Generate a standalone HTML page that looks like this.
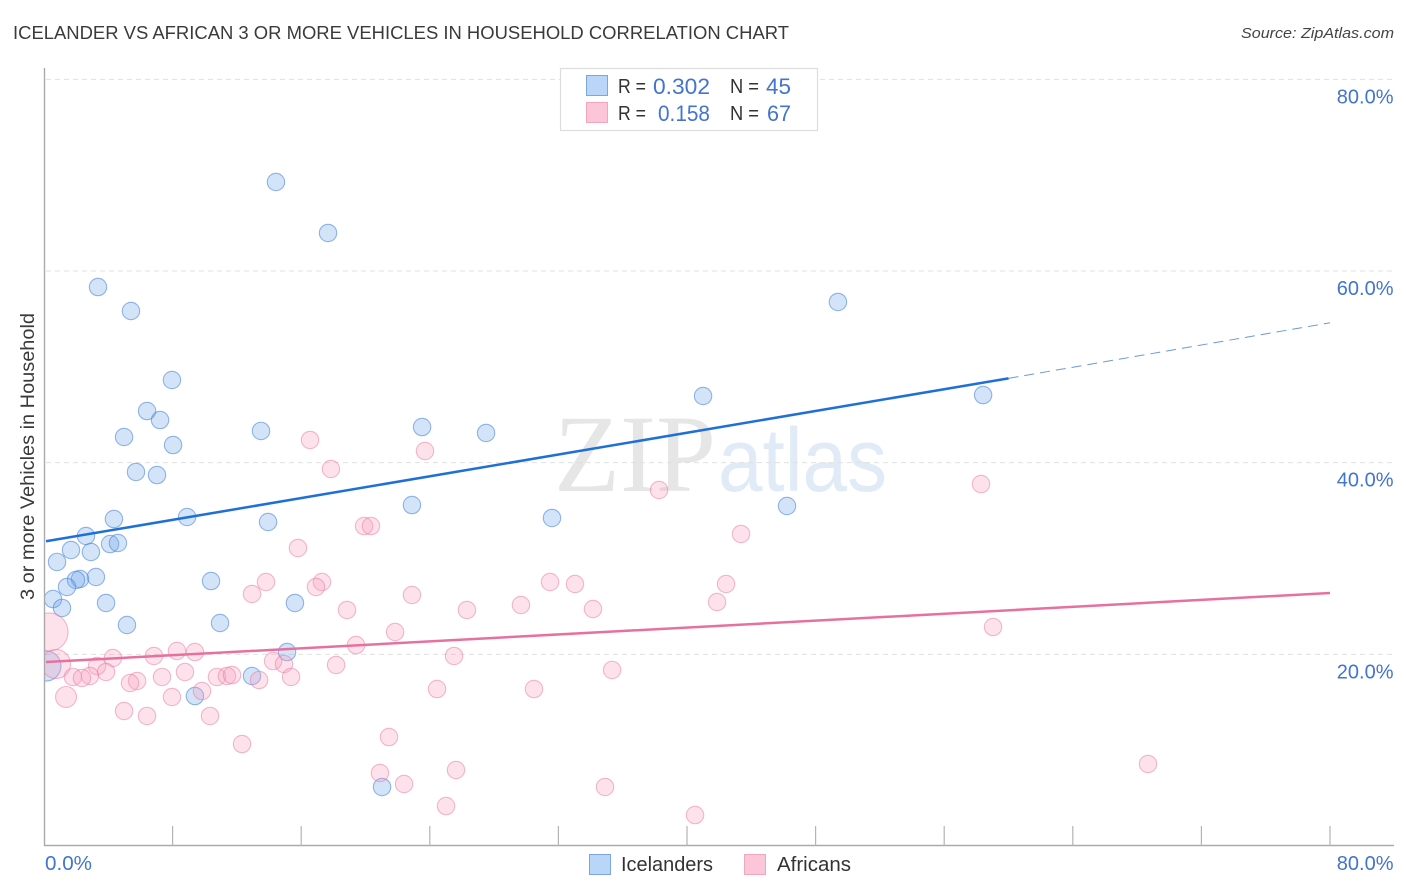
<!DOCTYPE html>
<html lang="en">
<head>
<meta charset="utf-8">
<title>Icelander vs African 3 or More Vehicles in Household Correlation Chart</title>
<style>
html,body{margin:0;padding:0;background:#fff;width:1406px;height:892px;overflow:hidden}
svg{display:block}
text{font-family:"Liberation Sans",sans-serif}
</style>
</head>
<body>
<svg id="chart" xmlns="http://www.w3.org/2000/svg" width="1406" height="892" viewBox="0 0 1406 892">
<rect x="0" y="0" width="1406" height="892" fill="#fff"/>
<text x="13" y="39" font-size="18" fill="#3a3a3a" textLength="776" lengthAdjust="spacingAndGlyphs">ICELANDER VS AFRICAN 3 OR MORE VEHICLES IN HOUSEHOLD CORRELATION CHART</text>
<text x="1241" y="38" font-size="15" font-style="italic" fill="#444" textLength="153" lengthAdjust="spacingAndGlyphs">Source: ZipAtlas.com</text>
<text x="554" y="491" style="font-family:'Liberation Serif',serif" font-size="110" fill="#e6e6e6" textLength="162" lengthAdjust="spacingAndGlyphs">ZIP</text>
<text x="718" y="491" font-size="90" fill="#e1ebf8" textLength="169" lengthAdjust="spacingAndGlyphs">atlas</text>
<g id="grid"></g>
<g id="pts"></g>
<rect x="0" y="60" width="44" height="800" fill="#fff"/>
<g id="axes"></g>
<g id="trends"></g>
<text transform="translate(34,600) rotate(-90)" font-size="19" fill="#3a3a3a" textLength="287" lengthAdjust="spacingAndGlyphs">3 or more Vehicles in Household</text>

<g>
<rect x="560.5" y="68.5" width="257" height="62" fill="#fff" stroke="#ddd" stroke-width="1.2"/>
<rect x="586.5" y="75.5" width="21" height="20" fill="#b9d5f8" stroke="#7ba6e0" stroke-width="1"/>
<rect x="586.5" y="102.5" width="21" height="20" fill="#fcc5d8" stroke="#f2a5bf" stroke-width="1"/>
<text x="618" y="93" font-size="20" fill="#333" textLength="28" lengthAdjust="spacingAndGlyphs">R =</text>
<text x="653" y="94" font-size="22" fill="#4274d0" textLength="57" lengthAdjust="spacingAndGlyphs">0.302</text>
<text x="730" y="93" font-size="20" fill="#333" textLength="29" lengthAdjust="spacingAndGlyphs">N =</text>
<text x="766" y="94" font-size="22" fill="#4274d0" textLength="25" lengthAdjust="spacingAndGlyphs">45</text>
<text x="618" y="120" font-size="20" fill="#333" textLength="28" lengthAdjust="spacingAndGlyphs">R =</text>
<text x="658" y="121" font-size="22" fill="#4274d0" textLength="52" lengthAdjust="spacingAndGlyphs">0.158</text>
<text x="730" y="120" font-size="20" fill="#333" textLength="29" lengthAdjust="spacingAndGlyphs">N =</text>
<text x="767" y="121" font-size="22" fill="#4274d0" textLength="24" lengthAdjust="spacingAndGlyphs">67</text>
</g>

<g>
<rect x="589.5" y="854.5" width="21" height="20" fill="#b9d5f8" stroke="#7ba6e0" stroke-width="1"/>
<text x="621" y="871" font-size="20" fill="#333" textLength="92" lengthAdjust="spacingAndGlyphs">Icelanders</text>
<rect x="744.5" y="854.5" width="21" height="20" fill="#fcc5d8" stroke="#f2a5bf" stroke-width="1"/>
<text x="777" y="871" font-size="20" fill="#333" textLength="74" lengthAdjust="spacingAndGlyphs">Africans</text>
</g>
</svg>
<script>
const yTicks = [20, 40, 60, 80];
const yTickLabels = ['20.0%', '40.0%', '60.0%', '80.0%'];
const xTicks = [8, 16, 24, 32, 40, 48, 56, 64, 72, 80];
const xEndLabels = ['0.0%', '80.0%'];

const icelandersX = [14.43,17.67,3.36,5.41,49.39,7.96,41.00,58.42,6.41,7.22,4.98,8.03,13.50,23.52,27.50,5.72,7.03,22.89,46.22,4.35,8.90,13.94,31.60,2.61,4.11,4.60,1.68,2.92,0.81,3.23,2.24,1.99,1.43,10.39,0.56,1.12,3.86,15.61,5.16,10.95,15.12,12.94,9.39,21.03,0.12];
const icelandersY = [69.29,63.97,58.33,55.83,56.77,48.63,46.96,47.06,45.39,44.45,42.68,41.84,43.31,43.72,43.10,39.03,38.71,35.58,35.48,34.12,34.33,33.81,34.23,32.35,31.51,31.62,30.89,30.68,29.64,28.07,27.86,27.76,27.03,27.65,25.77,24.84,25.36,25.36,23.06,23.27,20.24,17.74,15.65,6.16,18.78];
const icelandersWeight = [1,1,1,1,1,1,1,1,1,1,1,1,1,1,1,1,1,1,1,1,1,1,1,1,1,1,1,1,1,1,1,1,1,1,1,1,1,1,1,1,1,1,1,1,3];

const africansX = [16.55,23.70,17.85,58.29,38.26,43.36,19.91,20.34,15.80,13.81,17.29,16.92,12.94,22.89,31.48,33.03,42.43,41.87,29.67,34.15,26.31,18.85,59.04,21.84,0.31,19.41,25.51,8.27,9.39,6.84,4.29,3.30,0.75,14.25,14.93,18.17,35.34,8.77,3.86,2.86,1.80,2.36,5.79,5.35,7.34,10.76,11.38,11.70,13.38,15.37,24.45,30.48,9.83,7.96,1.37,4.98,6.41,10.33,12.32,21.46,20.90,25.63,22.40,68.68,34.90,25.01,40.50];
const africansY = [42.37,41.22,39.34,37.77,37.15,32.56,33.39,33.39,31.10,27.55,27.55,27.03,26.30,26.19,27.55,27.34,27.34,25.46,25.15,24.73,24.63,24.63,22.85,22.33,22.33,20.97,19.83,20.35,20.24,19.83,19.62,18.78,18.99,19.30,18.99,18.89,18.37,18.16,18.16,17.74,17.64,17.53,17.22,17.01,17.64,17.64,17.74,17.84,17.32,17.64,16.38,16.38,16.17,15.55,15.55,14.09,13.57,13.57,10.64,11.37,7.62,7.93,6.47,8.56,6.16,4.17,3.23];
const africansWeight = [1,1,1,1,1,1,1,1,1,1,1,1,1,1,1,1,1,1,1,1,1,1,1,1,4.8,1,1,1,1,1,1,1,2.8,1,1,1,1,1,1,1,1,1,1,1,1,1,1,1,1,1,1,1,1,1,1.45,1,1,1,1,1,1,1,1,1,1,1,1];

const icelandersTrendX = [0, 60, 80];
const icelandersTrendY = [31.8, 48.8, 54.6];
const africansTrendX = [0, 80];
const africansTrendY = [19.2, 26.4];

const NS = 'http://www.w3.org/2000/svg';
function xScale(v) { return 44 + v * 16.075; }
function yScale(v) { return 846 - v * 9.583; }
function rScale(w) { return 8.7 * Math.sqrt(w); }
function mk(parent, tag, attrs) {
  const el = document.createElementNS(NS, tag);
  for (const k in attrs) el.setAttribute(k, attrs[k]);
  parent.appendChild(el);
  return el;
}

const grid = document.getElementById('grid');
const axes = document.getElementById('axes');
const pts = document.getElementById('pts');
const trends = document.getElementById('trends');

yTicks.forEach(function (t, i) {
  const line = mk(grid, 'line', {x1: 46, x2: 1394, y1: yScale(t), y2: yScale(t), stroke: '#e0e0e0', 'stroke-width': 1, 'stroke-dasharray': '5 4'});
  
  
  const label = mk(axes, 'text', {x: 1393.5, y: yScale(t) + 24, 'font-size': 20, fill: '#4274d0', 'text-anchor': 'end'});
  label.textContent = yTickLabels[i];
  
  
});

const yAxis = mk(axes, 'line', {x1: 44.5, x2: 44.5, y1: 68, y2: 846, stroke: '#aaa', 'stroke-width': 1.4});


const xAxis = mk(axes, 'line', {x1: 44, x2: 1394, y1: 845.5, y2: 845.5, stroke: '#aaa', 'stroke-width': 1.4});



xTicks.forEach(function (t) {
  const tick = mk(axes, 'line', {x1: xScale(t), x2: xScale(t), y1: 826, y2: 846, stroke: '#b4b4b4', 'stroke-width': 1.2});
  
  
});

const xLabelStart = mk(axes, 'text', {x: 45, y: 870, 'font-size': 20, fill: '#4274d0', textLength: 47, lengthAdjust: 'spacingAndGlyphs'});
xLabelStart.textContent = xEndLabels[0];


const xLabelEnd = mk(axes, 'text', {x: 1393.5, y: 870, 'font-size': 20, fill: '#4274d0', 'text-anchor': 'end'});
xLabelEnd.textContent = xEndLabels[1];



icelandersX.forEach(function (v, i) {
  const c = mk(pts, 'circle', {cx: xScale(v), cy: yScale(icelandersY[i]), r: rScale(icelandersWeight[i]), fill: 'rgba(110,165,235,0.30)', stroke: 'rgba(65,125,215,0.55)', 'stroke-width': 1.1});
  
  
});
africansX.forEach(function (v, i) {
  const c = mk(pts, 'circle', {cx: xScale(v), cy: yScale(africansY[i]), r: rScale(africansWeight[i]), fill: 'rgba(248,160,190,0.30)', stroke: 'rgba(232,120,160,0.50)', 'stroke-width': 1.1});
  
  
});

const blueSolid = mk(trends, 'line', {x1: xScale(icelandersTrendX[0]) + 2, y1: yScale(icelandersTrendY[0]), x2: xScale(icelandersTrendX[1]), y2: yScale(icelandersTrendY[1]), stroke: '#1f6fd8', 'stroke-width': 2.5});


const blueDash = mk(trends, 'line', {x1: xScale(icelandersTrendX[1]), y1: yScale(icelandersTrendY[1]), x2: xScale(icelandersTrendX[2]), y2: yScale(icelandersTrendY[2]), stroke: '#6a98dc', 'stroke-width': 1, 'stroke-dasharray': '10 6'});


const pinkSolid = mk(trends, 'line', {x1: xScale(africansTrendX[0]) + 2, y1: yScale(africansTrendY[0]), x2: xScale(africansTrendX[1]), y2: yScale(africansTrendY[1]), stroke: '#e8709f', 'stroke-width': 2.5});


</script>
</body>
</html>
